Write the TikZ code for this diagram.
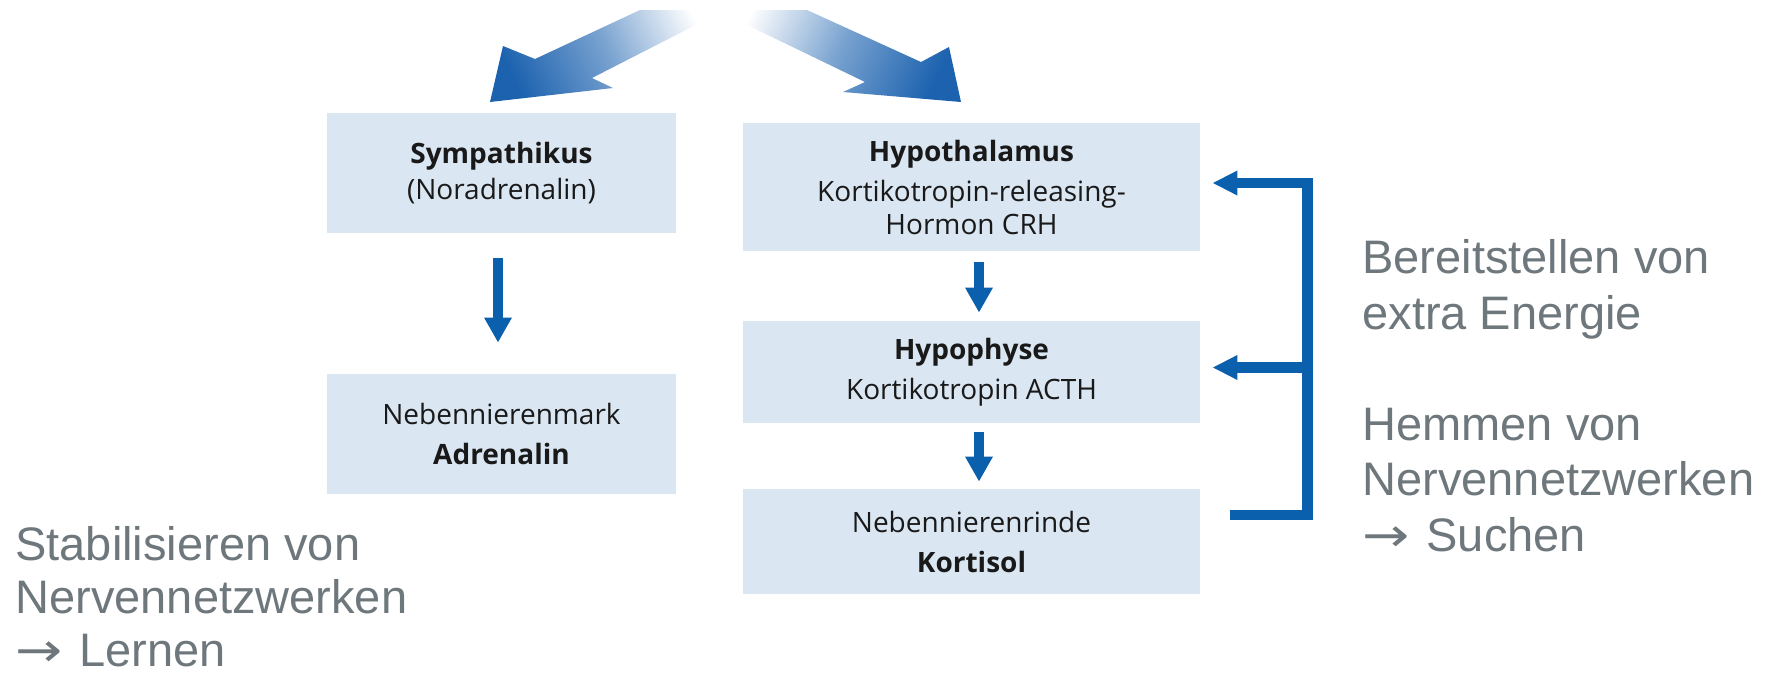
\documentclass[tikz,border=0pt]{standalone}
\usepackage{graphicx}
\usepackage{fontspec}
\setmainfont{Open Sans}
\newfontfamily\notefont{Liberation Sans}
\newfontfamily\arrowfont{DejaVu Sans}
\usetikzlibrary{arrows.meta,calc}

\definecolor{boxfill}{RGB}{218,230,242}
\definecolor{flowblue}{RGB}{10,96,172}
\definecolor{bigblue}{RGB}{28,98,175}
\definecolor{notegray}{RGB}{110,119,124}
\definecolor{boxtext}{RGB}{25,25,25}

\newcommand{\thento}{{\arrowfont\scalebox{1.2}[1]{→}}\hspace{0.36em}}

\begin{document}
\begin{tikzpicture}[x=0.5pt,y=-0.5pt,
  stage/.style={fill=boxfill, inner sep=0pt, align=center, text=boxtext,
    font=\fontsize{14}{20}\selectfont},
  flow/.style={draw=flowblue, line width=5pt,
    -{Triangle[width=13pt,length=12.5pt]}},
  feedback/.style={draw=flowblue, line width=5.25pt,
    -{Triangle[width=11.5pt,length=12.5pt]}},
  note/.style={text=notegray, font=\notefont\fontsize{23.5}{27.75}\selectfont,
    align=left, inner sep=0pt, anchor=north west},
]
\useasboundingbox (0,0) rectangle (1769,676);

% broad shaded arrows splitting into the two pathways
\shade[top color=white, bottom color=bigblue, middle color=bigblue!60, shading angle=-65]
  (640,10) -- (535,59) -- (503,46) -- (490,102) -- (613,88) -- (592,78) -- (725,10) -- cycle;
\shade[top color=white, bottom color=bigblue, middle color=bigblue!60, shading angle=65]
  (807,10) -- (921,62) -- (949,47) -- (961,102) -- (843,92) -- (865,82) -- (716,10) -- cycle;

% sympathetic pathway
\node[stage, minimum width=174.5pt, minimum height=60pt] (symp) at (501.5,173)
  {\bfseries Sympathikus\\[-2pt](Noradrenalin)};
\node[stage, minimum width=174.5pt, minimum height=60pt] (nnm) at (501.5,434)
  {Nebennierenmark\\\bfseries Adrenalin};

% hormonal axis
\node[stage, minimum width=228.5pt, minimum height=64pt] (hypo) at (971.5,187)
  {\bfseries Hypothalamus\\Kortikotropin-releasing-\\[-3.5pt]Hormon CRH};
\node[stage, minimum width=228.5pt, minimum height=51pt] (hyph) at (971.5,372)
  {\bfseries Hypophyse\\Kortikotropin ACTH};
\node[stage, minimum width=228.5pt, minimum height=52.5pt] (nnr) at (971.5,541.5)
  {Nebennierenrinde\\\bfseries Kortisol};

\draw[flow, shorten <=12.5pt, shorten >=15.5pt]
  ([xshift=-1.75pt]symp.south) -- ([xshift=-1.75pt]nnm.north);
\draw[flow, shorten <=5.5pt, shorten >=4pt]
  ([xshift=3.75pt]hypo.south) -- ([xshift=3.75pt]hyph.north);
\draw[flow, shorten <=4.5pt, shorten >=3.5pt]
  ([xshift=3.75pt]hyph.south) -- ([xshift=3.75pt]nnr.north);

% negative feedback of cortisol
\coordinate (fbIn)  at (1230,515);
\coordinate (fbBot) at (1307.5,515);
\coordinate (fbMid) at (1307.5,367.5);
\coordinate (fbTop) at (1307.5,183);
\draw[feedback] (fbIn) -- (fbBot) -- (fbTop) -- ($(fbTop -| hypo.east)+(12,0)$);
\draw[feedback] (fbMid) -- ($(fbMid -| hyph.east)+(12,0)$);

% effects
\node[note, font=\notefont\fontsize{23.5}{26.5}\selectfont] (effLeft) at (15,526.5)
  {Stabilisieren von\\Nervennetzwerken\\\thento Lernen};
\node[note] (effRight) at (1362,239.5)
  {Bereitstellen von\\extra Energie\\[27.75pt]Hemmen von\\Nervennetzwerken\\\thento Suchen};
\end{tikzpicture}
\end{document}
